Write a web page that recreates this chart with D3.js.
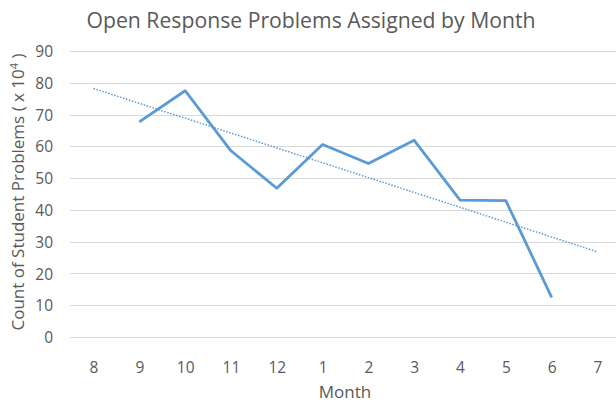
<!DOCTYPE html>
<html><head><meta charset="utf-8">
<script src="https://cdn.jsdelivr.net/npm/d3@7"></script>
<style>body{margin:0;background:#fff}svg{display:block}text{font-family:"Open Sans",sans-serif;fill:#595959}</style>
</head><body>
<script>
const months = ["8","9","10","11","12","1","2","3","4","5","6","7"];
const seriesMonths = ["9","10","11","12","1","2","3","4","5","6"];
const seriesValues = [67.7,77.5,58.6,46.8,60.6,54.6,61.9,43.1,42.9,12.5];
const trendMonths = ["8","7"];
const trendValues = [78.2,26.8];
const yTicks = [0,10,20,30,40,50,60,70,80,90];

const W=616,H=403;
const svg=d3.select("body").append("svg").attr("width",W).attr("height",H);
const x=d3.scalePoint().domain(months).range([93.5,597.5]);
const y=d3.scaleLinear().domain([0,90]).range([337,51]);

svg.append("g").selectAll("line").data(yTicks).join("line")
  .attr("x1",70).attr("x2",616).attr("y1",d=>Math.round(y(d))+0.5).attr("y2",d=>Math.round(y(d))+0.5)
  .attr("stroke","#d9d9d9").attr("stroke-width",1);

const yAx=d3.axisLeft(y).tickValues(yTicks).tickSize(0).tickPadding(0);
const gy=svg.append("g").attr("transform","translate(53,0)").call(yAx);
gy.select(".domain").remove();
gy.selectAll("text").style("font-size","15.5px").style("font-family","'Open Sans',sans-serif").attr("fill","#595959").attr("dy","0.36em");

const xAx=d3.axisBottom(x).tickSize(0).tickPadding(0);
const gx=svg.append("g").attr("transform","translate(0,360)").call(xAx);
gx.select(".domain").remove();
gx.selectAll("text").style("font-size","15.5px").style("font-family","'Open Sans',sans-serif").attr("fill","#595959").attr("dy","0.82em");

const line=d3.line().x((d,i)=>x(seriesMonths[i])).y(d=>y(d));
svg.append("path").datum(seriesValues).attr("d",line).attr("fill","none")
  .attr("stroke","#5b9bd5").attr("stroke-width",2.8).attr("stroke-linejoin","round");

const tline=d3.line().x((d,i)=>x(trendMonths[i])).y(d=>y(d));
svg.append("path").datum(trendValues).attr("d",tline).attr("fill","none")
  .attr("stroke","#5b9bd5").attr("stroke-width",1.5).attr("stroke-dasharray","1.5,1.6");

svg.append("text").attr("x",86.5).attr("y",28).attr("textLength",449).attr("lengthAdjust","spacingAndGlyphs")
  .style("font-size","22px").text("Open Response Problems Assigned by Month");
svg.append("text").attr("x",345).attr("y",398).attr("text-anchor","middle")
  .style("font-size","17px").text("Month");
const yt=svg.append("text").attr("transform","translate(24,192) rotate(-90)").attr("text-anchor","middle")
  .style("font-size","17px");
yt.append("tspan").text("Count of Student Problems ( x 10");
yt.append("tspan").attr("dy","-6").style("font-size","11px").text("4");
yt.append("tspan").attr("dy","6").text(" )");
</script>
</body></html>
